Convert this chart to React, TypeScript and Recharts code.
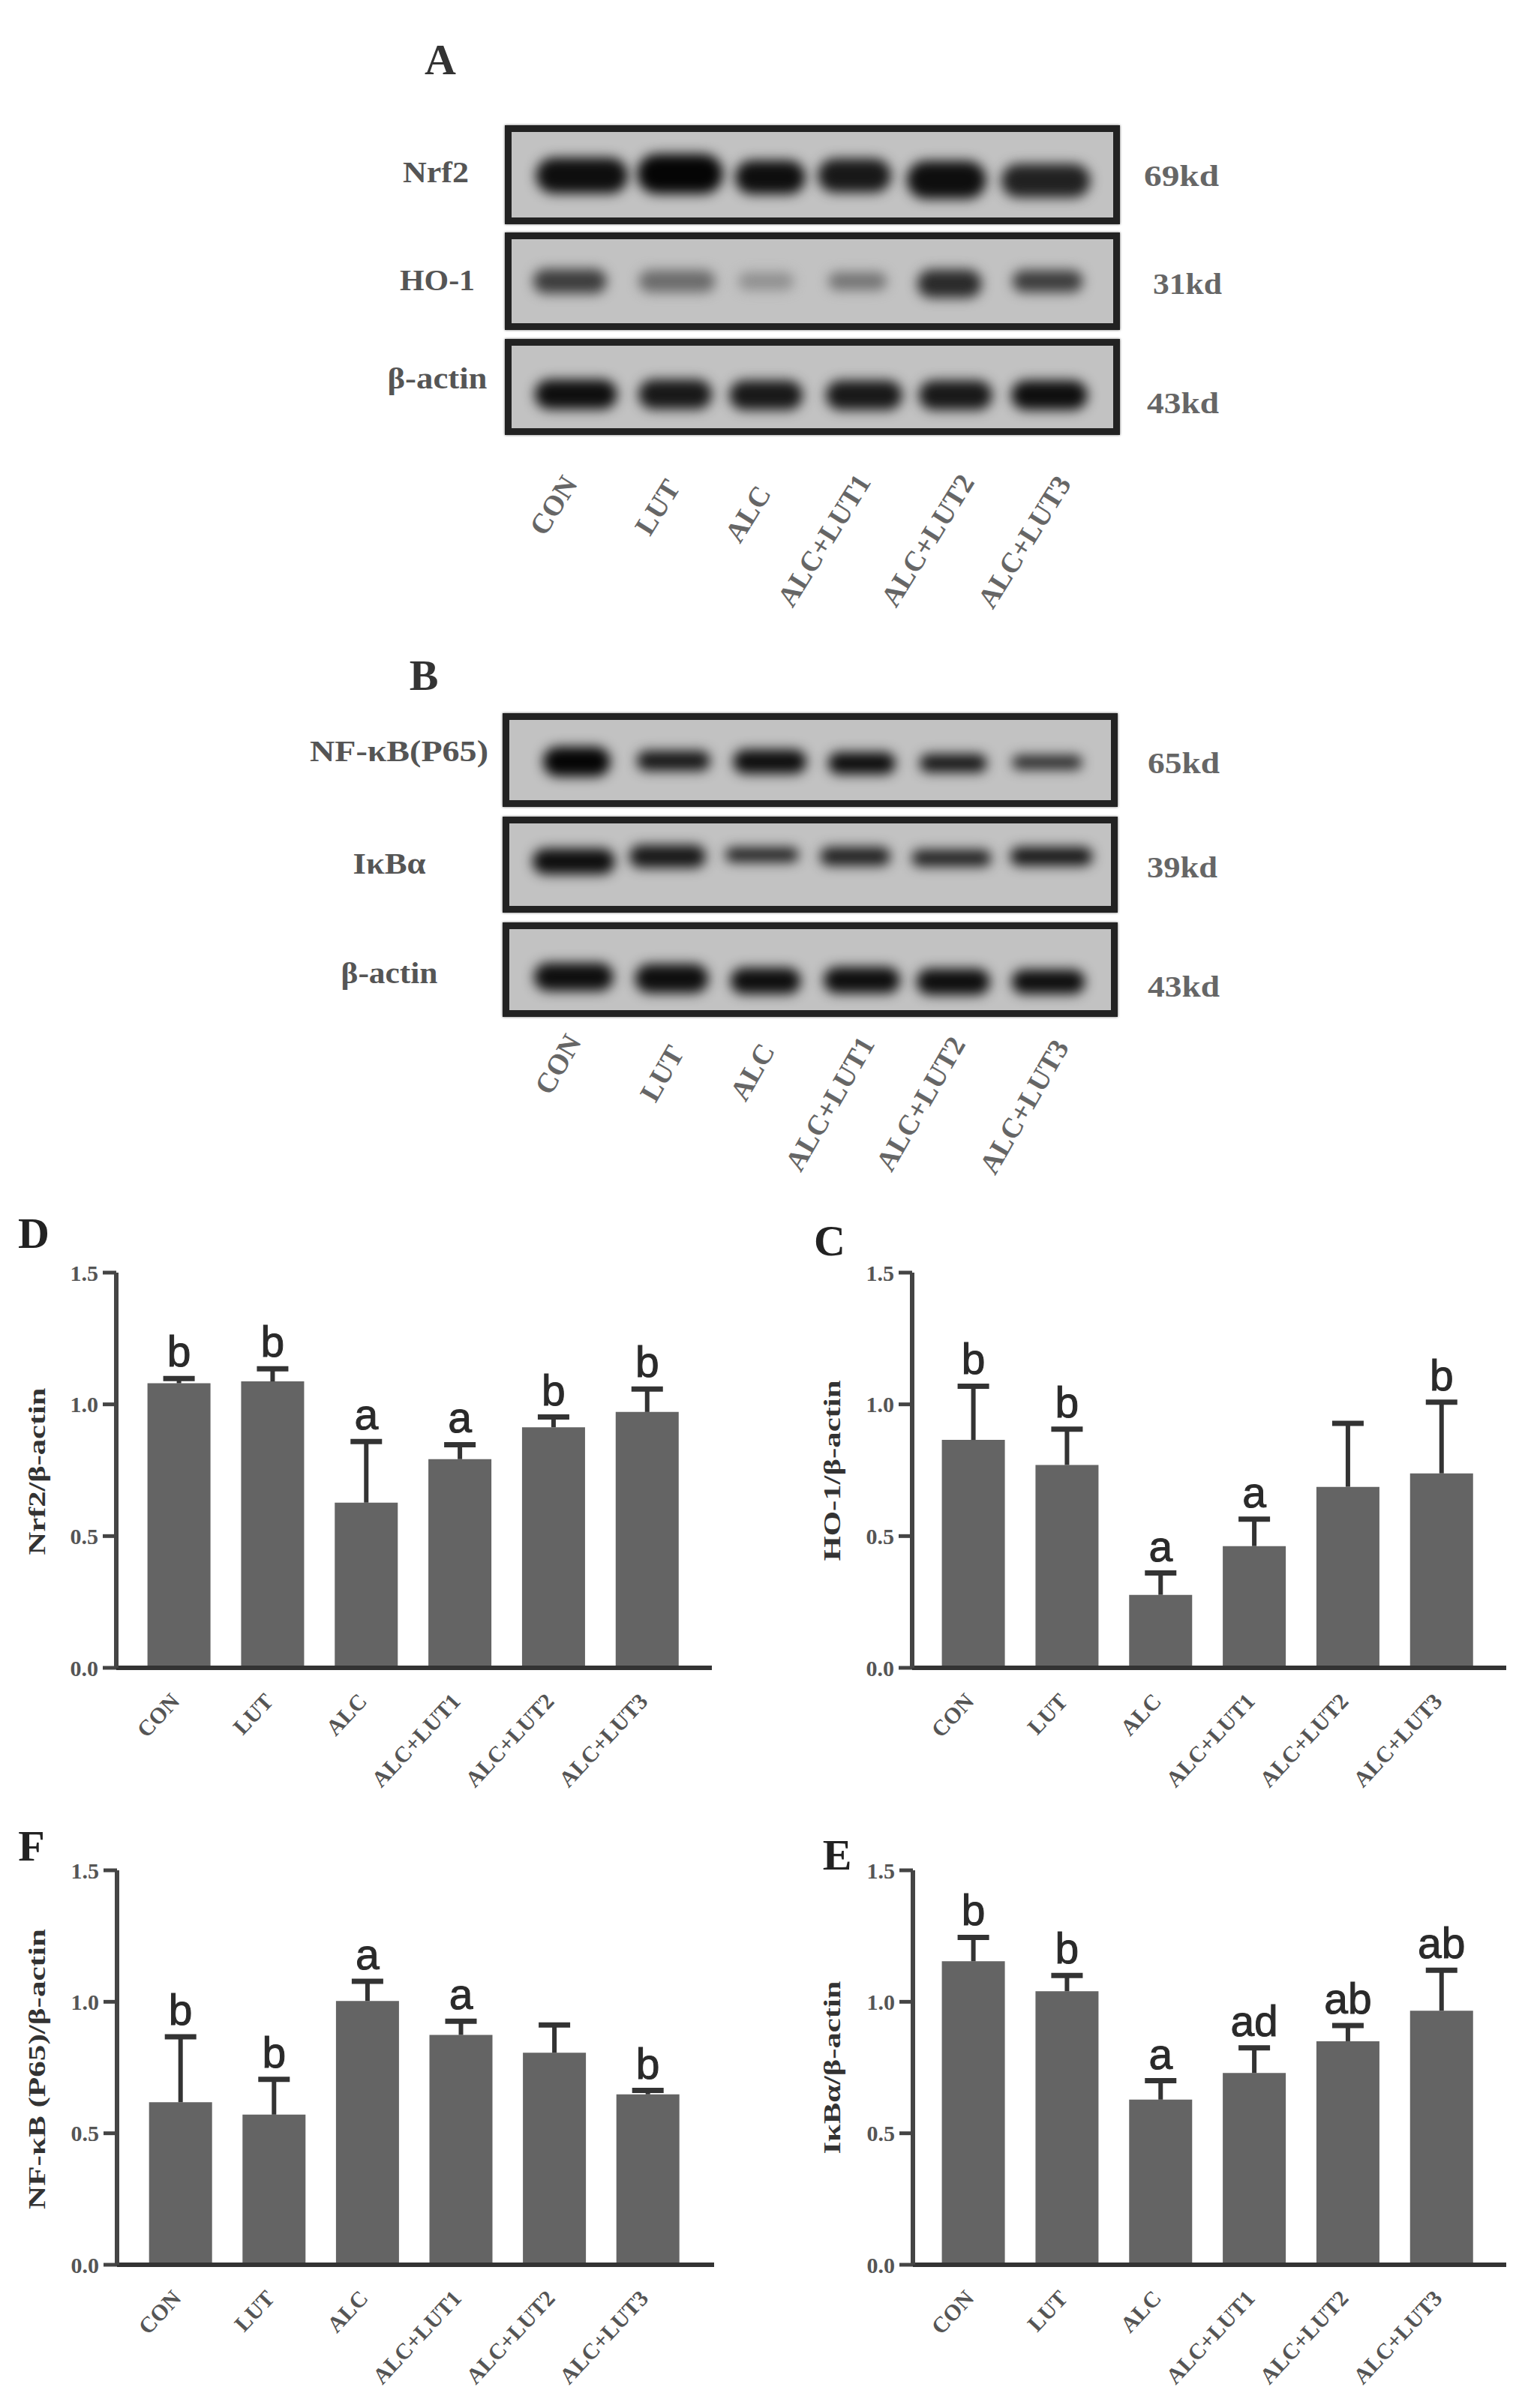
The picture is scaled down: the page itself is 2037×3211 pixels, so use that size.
import React from 'react';
import {
  Bar,
  ComposedChart,
  LabelList,
  Scatter,
  ScatterChart,
  XAxis,
  YAxis,
  ZAxis,
} from 'recharts';

const categories = ['CON', 'LUT', 'ALC', 'ALC+LUT1', 'ALC+LUT2', 'ALC+LUT3'];
const yTicks = [0, 0.5, 1, 1.5];

// densitometry means, error bars and significance letters
const nrf2Means = [1.08, 1.087, 0.627, 0.792, 0.913, 0.971];
const nrf2Errors = [0.018, 0.048, 0.232, 0.055, 0.039, 0.087];
const nrf2Letters = ['b', 'b', 'a', 'a', 'b', 'b'];

const ho1Means = [0.865, 0.77, 0.277, 0.462, 0.687, 0.738];
const ho1Errors = [0.204, 0.136, 0.083, 0.102, 0.241, 0.27];
const ho1Letters = ['b', 'b', 'a', 'a', '', 'b'];

const p65Means = [0.618, 0.571, 1.003, 0.874, 0.806, 0.648];
const p65Errors = [0.249, 0.134, 0.075, 0.052, 0.106, 0.015];
const p65Letters = ['b', 'b', 'a', 'a', '', 'b'];

const ikbMeans = [1.154, 1.04, 0.628, 0.729, 0.85, 0.966];
const ikbErrors = [0.091, 0.06, 0.072, 0.096, 0.06, 0.154];
const ikbLetters = ['b', 'b', 'a', 'ad', 'ab', 'ab'];

// blot bands, in percent of the membrane: lane centre, height, band size, signal
const nrf2Lane = [11.7, 28, 43, 57, 72.3, 88.8];
const nrf2Row = [51, 49, 53, 51, 56, 57];
const nrf2Wide = [15.3, 14.3, 11.7, 12.2, 13.2, 14.8];
const nrf2Tall = [35, 39, 33, 33, 37, 33];
const nrf2Signal = [0.95, 1, 0.95, 0.9, 0.95, 0.85];

const ho1Lane = [9.7, 27.5, 42.3, 57.5, 72.8, 89.1];
const ho1Row = [50, 50, 50, 50, 53, 50];
const ho1Wide = [12.2, 12.7, 9.2, 9.7, 10.7, 11.7];
const ho1Tall = [24, 22, 18, 18, 28, 22];
const ho1Signal = [0.7, 0.45, 0.25, 0.4, 0.8, 0.7];

const actinALane = [10.7, 27.2, 42.3, 58.6, 73.8, 89.4];
const actinARow = [59, 59, 60, 60, 60, 60];
const actinAWide = [13.7, 12.2, 12.2, 12.7, 12.2, 12.7];
const actinATall = [30, 30, 30, 30, 30, 30];
const actinASignal = [0.95, 0.9, 0.9, 0.9, 0.9, 0.95];

const p65Lane = [11.2, 27.3, 43.3, 58.6, 73.8, 89.4];
const p65Row = [52, 51, 52, 54, 54, 53];
const p65Wide = [11.2, 12.2, 12.2, 11.2, 11.2, 11.7];
const p65Tall = [31, 21, 25, 23, 19, 15];
const p65Signal = [1, 0.9, 0.95, 0.95, 0.9, 0.8];

const ikbLane = [10.7, 26.3, 42, 57.5, 73.5, 90.1];
const ikbRow = [46, 40, 38, 40, 42, 40];
const ikbWide = [13.7, 12.7, 12.2, 11.7, 13.2, 13.7];
const ikbTall = [26, 23, 15, 19, 17, 19];
const ikbSignal = [0.95, 0.9, 0.85, 0.85, 0.85, 0.9];

const actinBLane = [10.7, 27, 42.6, 58.6, 73.8, 89.6];
const actinBRow = [59, 61, 64, 63, 65, 65];
const actinBWide = [13.2, 12.2, 11.7, 12.7, 12.2, 12.2];
const actinBTall = [29, 30, 27, 27, 27, 25];
const actinBSignal = [0.95, 0.95, 0.95, 0.95, 0.95, 0.95];

const SERIF = '"Liberation Serif", serif';
const SANS = '"Liberation Sans", sans-serif';
const INK = '#333';
const BAR_GREY = '#646464';

const BandShape = (props: any) => {
  const { cx, cy, payload, boxW, boxH } = props;
  const w = (payload.wide / 100) * boxW;
  const h = (payload.tall / 100) * boxH * 1.2;
  const g = Math.round(190 - 185 * payload.signal);
  return (
    <rect
      x={cx - w / 2}
      y={cy - h / 2}
      width={w}
      height={h}
      rx={h / 2}
      fill={`rgb(${g},${g},${g})`}
      style={{ filter: 'blur(8px)' }}
    />
  );
};

type BlotProps = {
  left: number;
  top: number;
  width: number;
  height: number;
  lane: number[];
  row: number[];
  wide: number[];
  tall: number[];
  signal: number[];
};

const Blot = ({ left, top, width, height, lane, row, wide, tall, signal }: BlotProps) => {
  const rows = lane.map((x, i) => ({ x, y: row[i], wide: wide[i], tall: tall[i], signal: signal[i] }));
  return (
    <div
      style={{
        position: 'absolute',
        left,
        top,
        width,
        height,
        boxSizing: 'border-box',
        border: '9px solid #222',
        boxShadow: '0 0 3px #666',
        background: '#c2c2c2',
        overflow: 'hidden',
      }}
    >
      <ScatterChart width={width - 18} height={height - 18} margin={{ top: 0, right: 0, bottom: 0, left: 0 }}>
        <XAxis type="number" dataKey="x" domain={[0, 100]} hide />
        <YAxis type="number" dataKey="y" domain={[0, 100]} reversed hide />
        <ZAxis range={[10, 10]} />
        <Scatter
          data={rows}
          isAnimationActive={false}
          shape={(p: any) => <BandShape {...p} boxW={width - 18} boxH={height - 18} />}
        />
      </ScatterChart>
    </div>
  );
};

const SlantTick = ({ x, y, payload }: any) => (
  <text
    x={x + 2}
    y={y + 16}
    textAnchor="end"
    fontFamily={SERIF}
    fontWeight="bold"
    fontSize={30}
    fill="#555"
    transform={`rotate(-47 ${x + 2} ${y + 16})`}
  >
    {payload.value}
  </text>
);

// upper half of the error bar, stacked on the mean
const Whisker = ({ x, y, width, height }: any) => {
  const mid = x + width / 2;
  return (
    <g stroke={INK} strokeWidth={6}>
      <line x1={mid} x2={mid} y1={y} y2={y + height} />
      <line x1={mid - 21} x2={mid + 21} y1={y} y2={y} strokeWidth={7} />
    </g>
  );
};

type PanelProps = {
  axisX: number;
  endX: number;
  padLeft: number;
  padRight: number;
  topY: number;
  baseY: number;
  means: number[];
  errors: number[];
  letters: string[];
};

const Panel = ({ axisX, endX, padLeft, padRight, topY, baseY, means, errors, letters }: PanelProps) => {
  const gutter = 90;
  const rows = categories.map((name, i) => ({
    name,
    mean: means[i],
    err: errors[i],
    letter: letters[i],
  }));
  return (
    <div style={{ position: 'absolute', left: axisX - gutter, top: topY - 30 }}>
      <ComposedChart
        width={endX - axisX + gutter}
        height={baseY - topY + 230}
        data={rows}
        margin={{ top: 30, right: 0, bottom: 0, left: 0 }}
      >
        <XAxis
          dataKey="name"
          interval={0}
          padding={{ left: padLeft, right: padRight }}
          axisLine={{ stroke: INK, strokeWidth: 6 }}
          tickLine={false}
          tickMargin={24}
          height={200}
          tick={<SlantTick />}
        />
        <YAxis
          width={gutter}
          domain={[0, 1.5]}
          ticks={yTicks}
          tickFormatter={(v: number) => v.toFixed(1)}
          axisLine={{ stroke: '#444', strokeWidth: 6 }}
          tickLine={{ stroke: '#444', strokeWidth: 5 }}
          tickSize={18}
          tickMargin={6}
          tick={{ fontFamily: SERIF, fontWeight: 'bold', fontSize: 30, fill: '#555' }}
        />
        <Bar dataKey="mean" stackId="a" barSize={84} fill={BAR_GREY} isAnimationActive={false} />
        <Bar dataKey="err" stackId="a" barSize={84} shape={<Whisker />} isAnimationActive={false}>
          <LabelList
            dataKey="letter"
            position="top"
            offset={16}
            fontFamily={SANS}
            fontSize={57}
            fill="#2a2a2a"
            stroke="#2a2a2a"
            strokeWidth={1}
          />
        </Bar>
      </ComposedChart>
    </div>
  );
};

type LabelProps = {
  x: number;
  y: number;
  size?: number;
  fill?: string;
  weight?: string;
  anchor?: 'start' | 'middle' | 'end';
  length?: number;
  angle?: number;
  children: React.ReactNode;
};

const Label = ({ x, y, size = 40, fill = '#555', weight = 'bold', anchor = 'middle', length, angle, children }: LabelProps) => (
  <text
    x={x}
    y={y}
    fontFamily={SERIF}
    fontWeight={weight}
    fontSize={size}
    fill={fill}
    textAnchor={anchor}
    textLength={length}
    lengthAdjust={length ? 'spacingAndGlyphs' : undefined}
    transform={angle ? `rotate(${angle} ${x} ${y})` : undefined}
  >
    {children}
  </text>
);

const blotAEnds = [[771, 645], [908, 650], [1029, 658], [1162, 643], [1300, 643], [1429, 645]];
const blotBEnds = [[776, 1389], [913, 1404], [1034, 1401], [1167, 1392], [1288, 1392], [1426, 1396]];

export default function App() {
  return (
    <div style={{ position: 'absolute', left: 0, top: 0, width: 2037, height: 3211, background: '#fff', overflow: 'hidden' }}>
      <Blot left={673} top={167} width={820} height={132} lane={nrf2Lane} row={nrf2Row} wide={nrf2Wide} tall={nrf2Tall} signal={nrf2Signal} />
      <Blot left={673} top={310} width={820} height={130} lane={ho1Lane} row={ho1Row} wide={ho1Wide} tall={ho1Tall} signal={ho1Signal} />
      <Blot left={673} top={452} width={820} height={128} lane={actinALane} row={actinARow} wide={actinAWide} tall={actinATall} signal={actinASignal} />

      <Blot left={670} top={951} width={820} height={125} lane={p65Lane} row={p65Row} wide={p65Wide} tall={p65Tall} signal={p65Signal} />
      <Blot left={670} top={1089} width={820} height={128} lane={ikbLane} row={ikbRow} wide={ikbWide} tall={ikbTall} signal={ikbSignal} />
      <Blot left={670} top={1230} width={820} height={126} lane={actinBLane} row={actinBRow} wide={actinBWide} tall={actinBTall} signal={actinBSignal} />

      <Panel axisX={155} endX={949} padLeft={21.6} padRight={23.4} topY={1697} baseY={2224} means={nrf2Means} errors={nrf2Errors} letters={nrf2Letters} />
      <Panel axisX={1216} endX={2008} padLeft={19.6} padRight={23.4} topY={1697} baseY={2224} means={ho1Means} errors={ho1Errors} letters={ho1Letters} />
      <Panel axisX={156} endX={952} padLeft={22.7} padRight={25.7} topY={2494} baseY={3020} means={p65Means} errors={p65Errors} letters={p65Letters} />
      <Panel axisX={1217} endX={2008} padLeft={18.6} padRight={23.4} topY={2494} baseY={3020} means={ikbMeans} errors={ikbErrors} letters={ikbLetters} />

      <svg width={2037} height={3211} style={{ position: 'absolute', left: 0, top: 0, pointerEvents: 'none' }}>
        <Label x={587} y={99} size={58} fill={INK}>A</Label>
        <Label x={565} y={920} size={58} fill={INK}>B</Label>
        <Label x={45} y={1664} size={58} fill="#222">D</Label>
        <Label x={1106} y={1674} size={58} fill="#222">C</Label>
        <Label x={42} y={2481} size={58} fill="#222">F</Label>
        <Label x={1116} y={2493} size={58} fill="#222">E</Label>

        <Label x={581} y={243} length={88}>Nrf2</Label>
        <Label x={583} y={387} length={100}>HO-1</Label>
        <Label x={583} y={518} length={133}>β-actin</Label>
        <Label x={1575} y={248} length={100} fill="#666">69kd</Label>
        <Label x={1583} y={392} length={92} fill="#666">31kd</Label>
        <Label x={1577} y={551} length={96} fill="#666">43kd</Label>

        <Label x={532} y={1015} length={238}>NF-κB(P65)</Label>
        <Label x={519} y={1165} length={97}>IκBα</Label>
        <Label x={519} y={1311} length={129}>β-actin</Label>
        <Label x={1578} y={1031} length={96} fill="#666">65kd</Label>
        <Label x={1576} y={1170} length={94} fill="#666">39kd</Label>
        <Label x={1578} y={1329} length={96} fill="#666">43kd</Label>

        {categories.map((name, i) => (
          <Label key={`a${name}`} x={blotAEnds[i][0]} y={blotAEnds[i][1]} size={38} fill="#666" anchor="end" angle={-58}>{name}</Label>
        ))}
        {categories.map((name, i) => (
          <Label key={`b${name}`} x={blotBEnds[i][0]} y={blotBEnds[i][1]} size={38} fill="#666" anchor="end" angle={-60}>{name}</Label>
        ))}

        <Label x={60} y={1962} size={32} fill={INK} length={223} angle={-90}>Nrf2/β-actin</Label>
        <Label x={1120} y={1961} size={32} fill={INK} length={241} angle={-90}>HO-1/β-actin</Label>
        <Label x={60} y={2759} size={32} fill={INK} length={374} angle={-90}>NF-κB (P65)/β-actin</Label>
        <Label x={1120} y={2757} size={32} fill={INK} length={231} angle={-90}>IκBα/β-actin</Label>
      </svg>
    </div>
  );
}
